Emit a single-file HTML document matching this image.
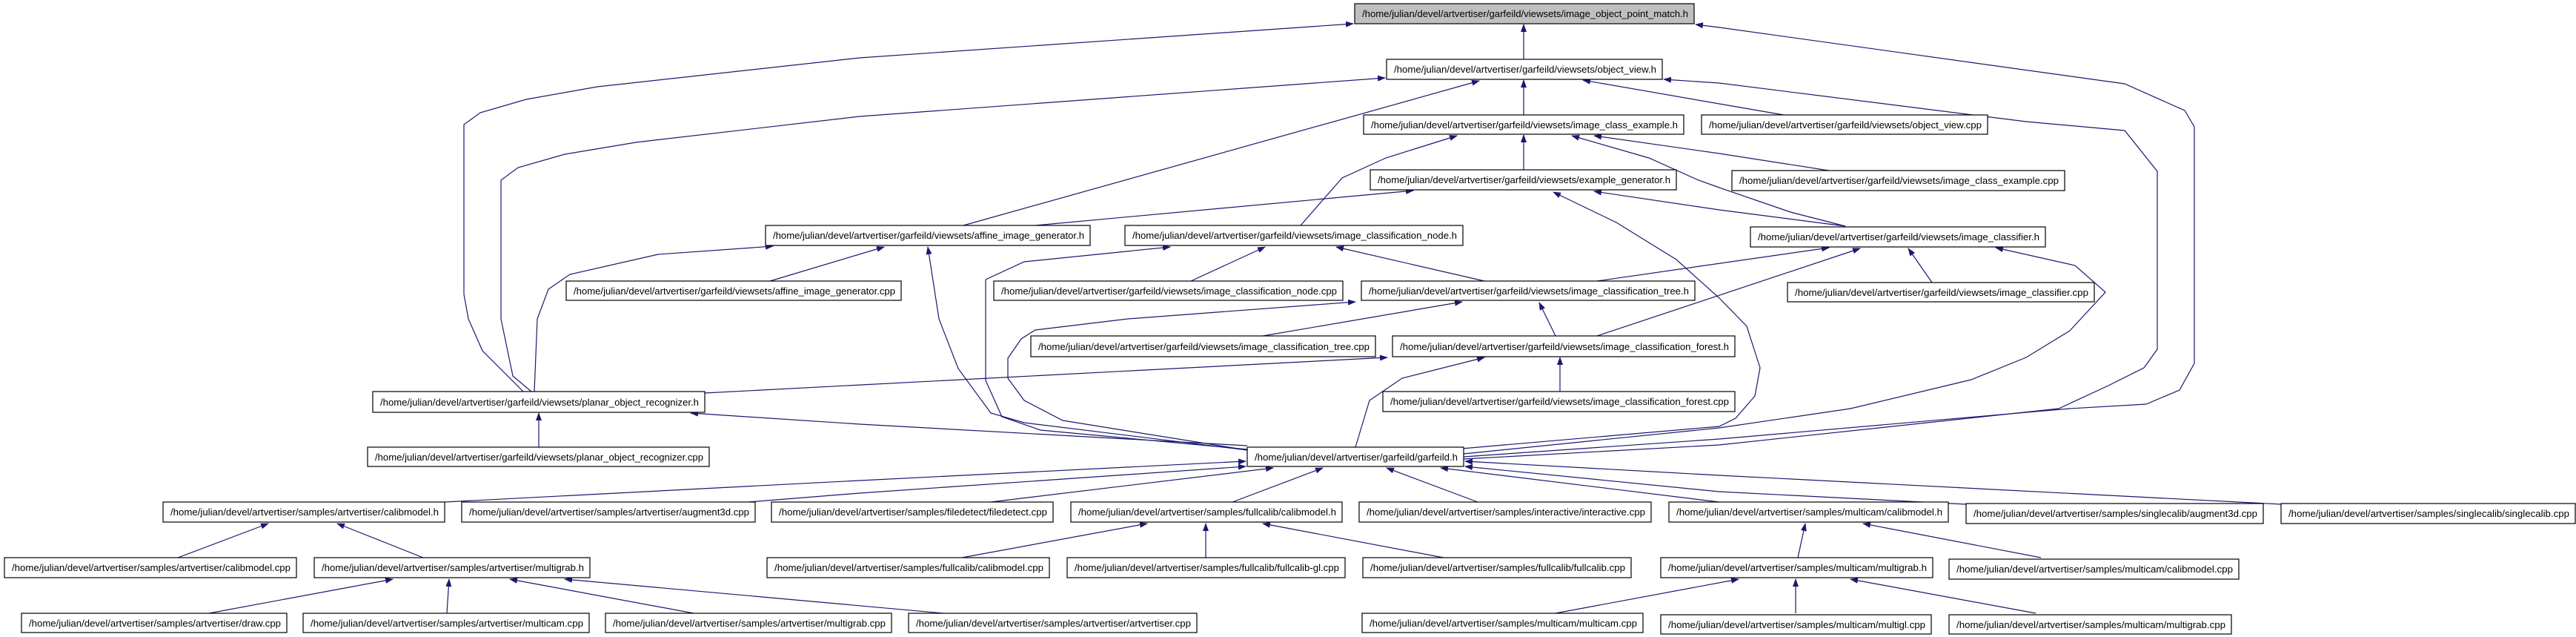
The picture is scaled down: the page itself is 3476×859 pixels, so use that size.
<!DOCTYPE html>
<html><head><meta charset="utf-8"><style>
html,body{margin:0;padding:0;background:#fff;}
svg{display:block;}
text{font-family:"Liberation Sans",Arial,sans-serif;font-size:13px;fill:#000;}
.e{fill:none;stroke:#191970;stroke-width:1.2;marker-end:url(#ah);}
.n{fill:#fff;stroke:#000;stroke-width:1.2;}
</style></head><body>
<svg width="3476" height="859" viewBox="0 0 3476 859" xmlns="http://www.w3.org/2000/svg">
<defs><marker id="ah" markerUnits="userSpaceOnUse" markerWidth="11" markerHeight="8" refX="10" refY="4" orient="auto"><path d="M0,0 L11,4 L0,8 z" fill="#191970"/></marker></defs>
<g>
<path class="e" d="M2056,80 L2056,33"/>
<path class="e" d="M706,528 L651,473 L632,430 L626,397 L626,168 L648,152 L710,134 L806,117 L1160,78 L1826,32"/>
<path class="e" d="M1975,616 L2320,592 L2793,551 L2896,545 L2941,526 L2961,490 L2961,171 L2948,149 L2867,113 L2320,37 L2288,33"/>
<path class="e" d="M2056,155 L2056,108"/>
<path class="e" d="M2407,155 L2320,140 L2136,108"/>
<path class="e" d="M1300,304 L1996,109"/>
<path class="e" d="M717,528 L692,507 L676,430 L676,243 L699,226 L762,208 L858,192 L1160,157 L1869,105"/>
<path class="e" d="M1975,619 L2320,600 L2778,551 L2845,520 L2893,496 L2911,471 L2911,231 L2867,176 L2734,164 L2320,112 L2245,107"/>
<path class="e" d="M2056,229 L2056,182"/>
<path class="e" d="M2468,230 L2320,207 L2151,183"/>
<path class="e" d="M1755,304 L1811,240 L1870,213 L1966,183"/>
<path class="e" d="M2490,305 L2416,286 L2320,253 L2292,243 L2225,213 L2121,183"/>
<path class="e" d="M1397,304 L1907,257"/>
<path class="e" d="M2490,305 L2320,283 L2151,258"/>
<path class="e" d="M1972,605 L2320,575 L2342,564 L2368,534 L2375,496 L2357,440 L2320,402 L2262,350 L2181,300 L2096,259"/>
<path class="e" d="M1039,379 L1193,333"/>
<path class="e" d="M721,528 L725,430 L740,390 L769,370 L888,343 L1043,332"/>
<path class="e" d="M1683,607 L1382,570 L1337,557 L1293,497 L1267,430 L1252,333"/>
<path class="e" d="M1607,379 L1707,333"/>
<path class="e" d="M2003,379 L1803,333"/>
<path class="e" d="M1683,606 L1404,580 L1352,562 L1330,513 L1330,377 L1382,353 L1579,333"/>
<path class="e" d="M2155,379 L2468,334"/>
<path class="e" d="M2607,381 L2575,335"/>
<path class="e" d="M2155,453 L2510,335"/>
<path class="e" d="M1975,612 L2320,577 L2497,551 L2660,512 L2734,482 L2793,446 L2841,394 L2800,358 L2693,334"/>
<path class="e" d="M1704,453 L1973,407"/>
<path class="e" d="M2099,453 L2077,408"/>
<path class="e" d="M1683,607 L1434,567 L1382,540 L1360,510 L1360,483 L1378,457 L1397,445 L1522,430 L1829,407"/>
<path class="e" d="M2105,528 L2105,482"/>
<path class="e" d="M1829,603 L1848,540 L1892,510 L2003,482"/>
<path class="e" d="M727,603 L727,557"/>
<path class="e" d="M1683,601 L1160,572 L932,557"/>
<path class="e" d="M951,530 L1872,482"/>
<path class="e" d="M600,677 L1160,648 L1681,622"/>
<path class="e" d="M1010,677 L1160,665 L1681,629"/>
<path class="e" d="M1337,677 L1718,631"/>
<path class="e" d="M1663,677 L1785,631"/>
<path class="e" d="M1994,677 L1871,631"/>
<path class="e" d="M2320,677 L1944,631"/>
<path class="e" d="M2653,680 L2320,663 L1977,629"/>
<path class="e" d="M3078,680 L2320,641 L1977,622"/>
<path class="e" d="M240,752 L362,706"/>
<path class="e" d="M571,752 L455,706"/>
<path class="e" d="M282,827 L530,781"/>
<path class="e" d="M603,827 L606,781"/>
<path class="e" d="M936,827 L688,781"/>
<path class="e" d="M1273,827 L762,781"/>
<path class="e" d="M1298,752 L1548,706"/>
<path class="e" d="M1627,752 L1627,706"/>
<path class="e" d="M1948,752 L1704,706"/>
<path class="e" d="M2426,752 L2436,706"/>
<path class="e" d="M2754,752 L2514,706"/>
<path class="e" d="M2099,827 L2346,781"/>
<path class="e" d="M2423,827 L2423,781"/>
<path class="e" d="M2747,827 L2497,781"/>
</g>
<g>
<rect x="1828" y="5" width="458" height="27" fill="#bfbfbf" stroke="#000" stroke-width="1.2"/><text x="1838" y="23" textLength="440" lengthAdjust="spacingAndGlyphs">/home/julian/devel/artvertiser/garfeild/viewsets/image_object_point_match.h</text>
<rect class="n" x="1871" y="80" width="372" height="27"/><text x="1881" y="98" textLength="354" lengthAdjust="spacingAndGlyphs">/home/julian/devel/artvertiser/garfeild/viewsets/object_view.h</text>
<rect class="n" x="1840" y="155" width="432" height="26"/><text x="1850" y="173" textLength="414" lengthAdjust="spacingAndGlyphs">/home/julian/devel/artvertiser/garfeild/viewsets/image_class_example.h</text>
<rect class="n" x="2296" y="155" width="386" height="26"/><text x="2306" y="173" textLength="368" lengthAdjust="spacingAndGlyphs">/home/julian/devel/artvertiser/garfeild/viewsets/object_view.cpp</text>
<rect class="n" x="1849" y="229" width="413" height="27"/><text x="1859" y="247" textLength="395" lengthAdjust="spacingAndGlyphs">/home/julian/devel/artvertiser/garfeild/viewsets/example_generator.h</text>
<rect class="n" x="2337" y="230" width="449" height="27"/><text x="2347" y="248" textLength="431" lengthAdjust="spacingAndGlyphs">/home/julian/devel/artvertiser/garfeild/viewsets/image_class_example.cpp</text>
<rect class="n" x="1033" y="304" width="438" height="27"/><text x="1043" y="322" textLength="420" lengthAdjust="spacingAndGlyphs">/home/julian/devel/artvertiser/garfeild/viewsets/affine_image_generator.h</text>
<rect class="n" x="1518" y="304" width="456" height="27"/><text x="1528" y="322" textLength="438" lengthAdjust="spacingAndGlyphs">/home/julian/devel/artvertiser/garfeild/viewsets/image_classification_node.h</text>
<rect class="n" x="2362" y="306" width="398" height="27"/><text x="2372" y="324" textLength="380" lengthAdjust="spacingAndGlyphs">/home/julian/devel/artvertiser/garfeild/viewsets/image_classifier.h</text>
<rect class="n" x="764" y="379" width="452" height="26"/><text x="774" y="397" textLength="434" lengthAdjust="spacingAndGlyphs">/home/julian/devel/artvertiser/garfeild/viewsets/affine_image_generator.cpp</text>
<rect class="n" x="1341" y="379" width="471" height="26"/><text x="1351" y="397" textLength="453" lengthAdjust="spacingAndGlyphs">/home/julian/devel/artvertiser/garfeild/viewsets/image_classification_node.cpp</text>
<rect class="n" x="1837" y="379" width="450" height="26"/><text x="1847" y="397" textLength="432" lengthAdjust="spacingAndGlyphs">/home/julian/devel/artvertiser/garfeild/viewsets/image_classification_tree.h</text>
<rect class="n" x="2412" y="381" width="414" height="26"/><text x="2422" y="399" textLength="396" lengthAdjust="spacingAndGlyphs">/home/julian/devel/artvertiser/garfeild/viewsets/image_classifier.cpp</text>
<rect class="n" x="1391" y="453" width="465" height="28"/><text x="1401" y="472" textLength="447" lengthAdjust="spacingAndGlyphs">/home/julian/devel/artvertiser/garfeild/viewsets/image_classification_tree.cpp</text>
<rect class="n" x="1879" y="453" width="462" height="28"/><text x="1889" y="472" textLength="444" lengthAdjust="spacingAndGlyphs">/home/julian/devel/artvertiser/garfeild/viewsets/image_classification_forest.h</text>
<rect class="n" x="503" y="528" width="448" height="28"/><text x="513" y="547" textLength="430" lengthAdjust="spacingAndGlyphs">/home/julian/devel/artvertiser/garfeild/viewsets/planar_object_recognizer.h</text>
<rect class="n" x="1866" y="528" width="475" height="27"/><text x="1876" y="546" textLength="457" lengthAdjust="spacingAndGlyphs">/home/julian/devel/artvertiser/garfeild/viewsets/image_classification_forest.cpp</text>
<rect class="n" x="496" y="603" width="461" height="26"/><text x="506" y="621" textLength="443" lengthAdjust="spacingAndGlyphs">/home/julian/devel/artvertiser/garfeild/viewsets/planar_object_recognizer.cpp</text>
<rect class="n" x="1683" y="603" width="292" height="26"/><text x="1693" y="621" textLength="274" lengthAdjust="spacingAndGlyphs">/home/julian/devel/artvertiser/garfeild/garfeild.h</text>
<rect class="n" x="220" y="677" width="380" height="27"/><text x="230" y="695" textLength="362" lengthAdjust="spacingAndGlyphs">/home/julian/devel/artvertiser/samples/artvertiser/calibmodel.h</text>
<rect class="n" x="623" y="677" width="396" height="27"/><text x="633" y="695" textLength="378" lengthAdjust="spacingAndGlyphs">/home/julian/devel/artvertiser/samples/artvertiser/augment3d.cpp</text>
<rect class="n" x="1041" y="677" width="380" height="27"/><text x="1051" y="695" textLength="362" lengthAdjust="spacingAndGlyphs">/home/julian/devel/artvertiser/samples/filedetect/filedetect.cpp</text>
<rect class="n" x="1445" y="677" width="366" height="27"/><text x="1455" y="695" textLength="348" lengthAdjust="spacingAndGlyphs">/home/julian/devel/artvertiser/samples/fullcalib/calibmodel.h</text>
<rect class="n" x="1834" y="677" width="394" height="27"/><text x="1844" y="695" textLength="376" lengthAdjust="spacingAndGlyphs">/home/julian/devel/artvertiser/samples/interactive/interactive.cpp</text>
<rect class="n" x="2252" y="677" width="377" height="27"/><text x="2262" y="695" textLength="359" lengthAdjust="spacingAndGlyphs">/home/julian/devel/artvertiser/samples/multicam/calibmodel.h</text>
<rect class="n" x="2653" y="679" width="401" height="27"/><text x="2663" y="697" textLength="383" lengthAdjust="spacingAndGlyphs">/home/julian/devel/artvertiser/samples/singlecalib/augment3d.cpp</text>
<rect class="n" x="3078" y="679" width="397" height="27"/><text x="3088" y="697" textLength="379" lengthAdjust="spacingAndGlyphs">/home/julian/devel/artvertiser/samples/singlecalib/singlecalib.cpp</text>
<rect class="n" x="6" y="752" width="394" height="27"/><text x="16" y="770" textLength="376" lengthAdjust="spacingAndGlyphs">/home/julian/devel/artvertiser/samples/artvertiser/calibmodel.cpp</text>
<rect class="n" x="424" y="752" width="372" height="27"/><text x="434" y="770" textLength="354" lengthAdjust="spacingAndGlyphs">/home/julian/devel/artvertiser/samples/artvertiser/multigrab.h</text>
<rect class="n" x="1035" y="752" width="381" height="27"/><text x="1045" y="770" textLength="363" lengthAdjust="spacingAndGlyphs">/home/julian/devel/artvertiser/samples/fullcalib/calibmodel.cpp</text>
<rect class="n" x="1440" y="752" width="375" height="27"/><text x="1450" y="770" textLength="357" lengthAdjust="spacingAndGlyphs">/home/julian/devel/artvertiser/samples/fullcalib/fullcalib-gl.cpp</text>
<rect class="n" x="1839" y="752" width="362" height="27"/><text x="1849" y="770" textLength="344" lengthAdjust="spacingAndGlyphs">/home/julian/devel/artvertiser/samples/fullcalib/fullcalib.cpp</text>
<rect class="n" x="2241" y="752" width="367" height="27"/><text x="2251" y="770" textLength="349" lengthAdjust="spacingAndGlyphs">/home/julian/devel/artvertiser/samples/multicam/multigrab.h</text>
<rect class="n" x="2630" y="754" width="391" height="27"/><text x="2640" y="772" textLength="373" lengthAdjust="spacingAndGlyphs">/home/julian/devel/artvertiser/samples/multicam/calibmodel.cpp</text>
<rect class="n" x="29" y="827" width="358" height="26"/><text x="39" y="845" textLength="340" lengthAdjust="spacingAndGlyphs">/home/julian/devel/artvertiser/samples/artvertiser/draw.cpp</text>
<rect class="n" x="409" y="827" width="386" height="26"/><text x="419" y="845" textLength="368" lengthAdjust="spacingAndGlyphs">/home/julian/devel/artvertiser/samples/artvertiser/multicam.cpp</text>
<rect class="n" x="817" y="827" width="386" height="26"/><text x="827" y="845" textLength="368" lengthAdjust="spacingAndGlyphs">/home/julian/devel/artvertiser/samples/artvertiser/multigrab.cpp</text>
<rect class="n" x="1226" y="827" width="389" height="26"/><text x="1236" y="845" textLength="371" lengthAdjust="spacingAndGlyphs">/home/julian/devel/artvertiser/samples/artvertiser/artvertiser.cpp</text>
<rect class="n" x="1838" y="827" width="379" height="26"/><text x="1848" y="845" textLength="361" lengthAdjust="spacingAndGlyphs">/home/julian/devel/artvertiser/samples/multicam/multicam.cpp</text>
<rect class="n" x="2241" y="829" width="365" height="26"/><text x="2251" y="847" textLength="347" lengthAdjust="spacingAndGlyphs">/home/julian/devel/artvertiser/samples/multicam/multigl.cpp</text>
<rect class="n" x="2630" y="829" width="381" height="26"/><text x="2640" y="847" textLength="363" lengthAdjust="spacingAndGlyphs">/home/julian/devel/artvertiser/samples/multicam/multigrab.cpp</text>
</g>
</svg>
</body></html>
